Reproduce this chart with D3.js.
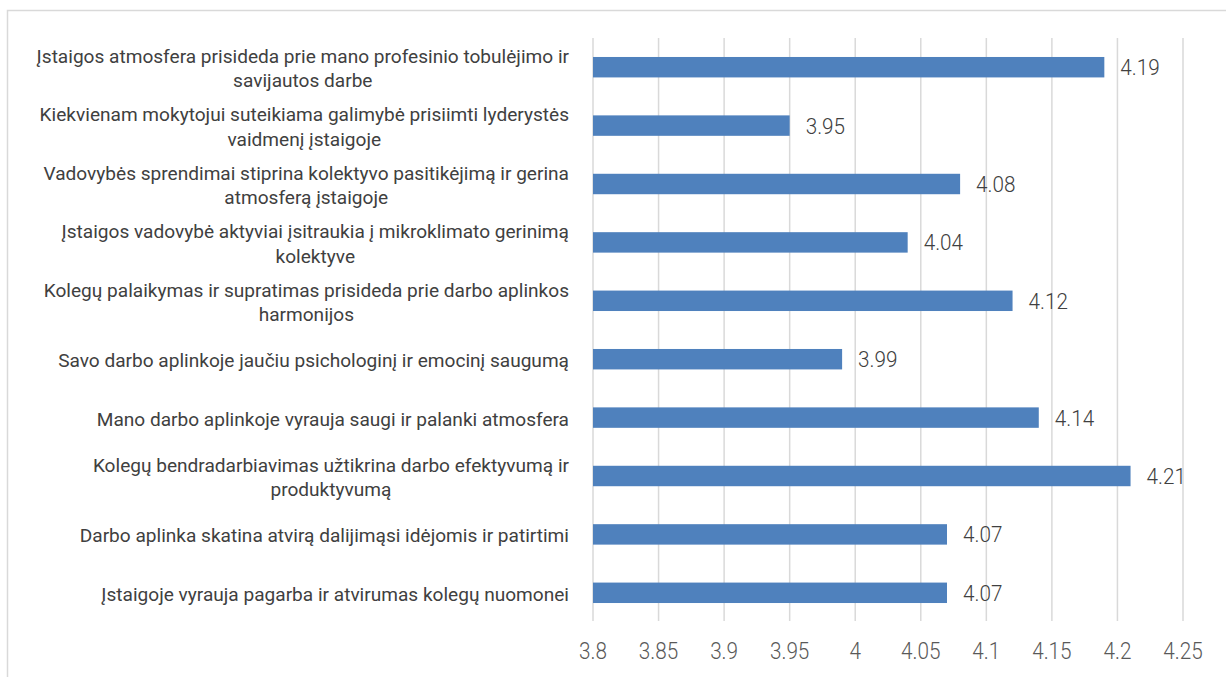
<!DOCTYPE html>
<html>
<head>
<meta charset="utf-8">
<script src="https://cdn.jsdelivr.net/npm/d3@7"></script>
<style>
  html, body { margin: 0; padding: 0; background: #fff; }
  svg { display: block; }
</style>
</head>
<body>
<svg width="1226" height="677"></svg>
<script>
// chart data, top to bottom
const categories = [
  ['Įstaigos atmosfera prisideda prie mano profesinio tobulėjimo ir', 'savijautos darbe'],
  ['Kiekvienam mokytojui suteikiama galimybė prisiimti lyderystės', 'vaidmenį įstaigoje'],
  ['Vadovybės sprendimai stiprina kolektyvo pasitikėjimą ir gerina', 'atmosferą įstaigoje'],
  ['Įstaigos vadovybė aktyviai įsitraukia į mikroklimato gerinimą', 'kolektyve'],
  ['Kolegų palaikymas ir supratimas prisideda prie darbo aplinkos', 'harmonijos'],
  ['Savo darbo aplinkoje jaučiu psichologinį ir emocinį saugumą'],
  ['Mano darbo aplinkoje vyrauja saugi ir palanki atmosfera'],
  ['Kolegų bendradarbiavimas užtikrina darbo efektyvumą ir', 'produktyvumą'],
  ['Darbo aplinka skatina atvirą dalijimąsi idėjomis ir patirtimi'],
  ['Įstaigoje vyrauja pagarba ir atvirumas kolegų nuomonei']
];
const values = [4.19, 3.95, 4.08, 4.04, 4.12, 3.99, 4.14, 4.21, 4.07, 4.07];
const ticks = [3.8, 3.85, 3.9, 3.95, 4, 4.05, 4.1, 4.15, 4.2, 4.25];

const svg = d3.select('svg');

const plotLeft = 593, plotRight = 1183, plotTop = 38, plotBottom = 622;
const labelRight = 569;

const x = d3.scaleLinear().domain([3.8, 4.25]).range([plotLeft, plotRight]);
const y = d3.scaleBand()
  .domain(d3.range(values.length))
  .range([plotTop, plotBottom])
  .paddingInner(0.65)
  .paddingOuter(0.325);

// stretch / squeeze text so its width matches the original font
function fitWidth(sel, k) {
  sel.each(function() {
    const w = this.getComputedTextLength();
    d3.select(this).attr('textLength', w * k).attr('lengthAdjust', 'spacingAndGlyphs');
  });
}

// chart border (top + left visible)
svg.append('path')
  .attr('d', 'M7.5,677 L7.5,10.5 L1226,10.5')
  .attr('fill', 'none')
  .attr('stroke', '#d9d9d9')
  .attr('stroke-width', 1.5);

// grid lines
svg.append('g')
  .selectAll('line')
  .data(ticks)
  .join('line')
  .attr('x1', d => x(d))
  .attr('x2', d => x(d))
  .attr('y1', plotTop)
  .attr('y2', plotBottom - 1)
  .attr('stroke', '#d9d9d9')
  .attr('stroke-width', 1.5);

// tick labels
svg.append('g')
  .selectAll('text')
  .data(ticks)
  .join('text')
  .attr('x', d => x(d))
  .attr('y', 659)
  .attr('text-anchor', 'middle')
  .attr('font-family', 'Roboto, sans-serif')
  .attr('font-weight', 300)
  .attr('font-size', '23px')
  .attr('fill', '#595959')
  .text(d => d)
  .call(fitWidth, 0.9);

// bars
svg.append('g')
  .selectAll('rect')
  .data(values)
  .join('rect')
  .attr('x', x(3.8))
  .attr('y', (d, i) => y(i))
  .attr('width', d => x(d) - x(3.8))
  .attr('height', y.bandwidth())
  .attr('fill', '#4f81bd');

// value labels
svg.append('g')
  .selectAll('text')
  .data(values)
  .join('text')
  .attr('x', d => x(d) + 16)
  .attr('y', (d, i) => y(i) + y.bandwidth() / 2 + 8)
  .attr('font-family', 'Roboto, sans-serif')
  .attr('font-weight', 300)
  .attr('font-size', '22.5px')
  .attr('fill', '#404040')
  .text(d => d.toFixed(2))
  .call(fitWidth, 0.92);

// category labels, wrapped lines centred inside a right aligned block
const lineGap = 24.5;
categories.forEach((lines, i) => {
  const cy = y(i) + y.bandwidth() / 2 + 2;
  const g = svg.append('g');
  const texts = g.selectAll('text')
    .data(lines)
    .join('text')
    .attr('y', (d, j) => cy + (j - (lines.length - 1) / 2) * lineGap + 6)
    .attr('font-family', 'Roboto, sans-serif')
    .attr('font-size', '17.5px')
    .attr('fill', '#404040')
    .attr('text-anchor', 'middle')
    .text(d => d)
    .call(fitWidth, 1.09);
  let maxW = 0;
  texts.each(function() { maxW = Math.max(maxW, +this.getAttribute('textLength')); });
  texts.attr('x', labelRight - maxW / 2);
});
</script>
</body>
</html>
